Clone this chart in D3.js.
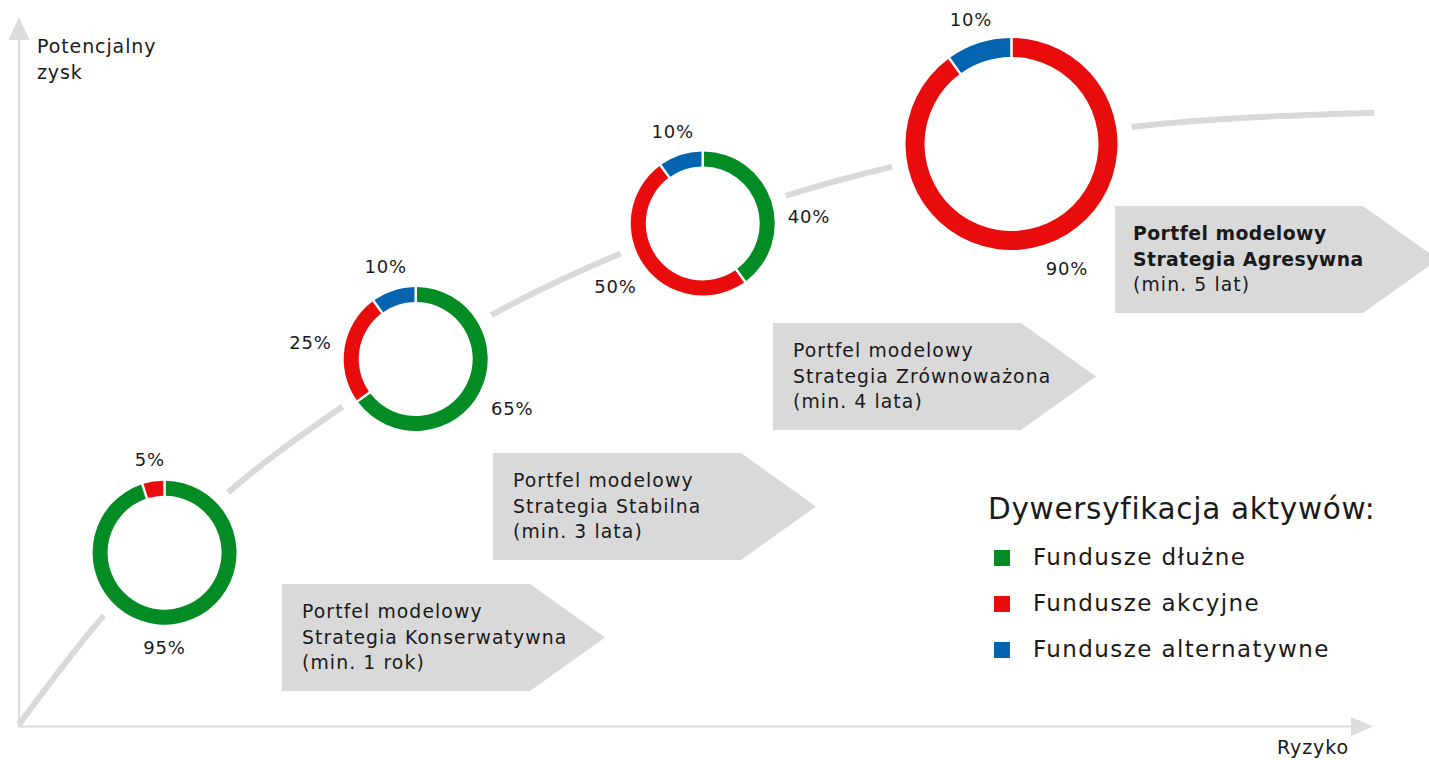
<!DOCTYPE html>
<html>
<head>
<meta charset="utf-8">
<script src="https://cdn.jsdelivr.net/npm/d3@7"></script>
<style>
  html, body { margin: 0; padding: 0; background: #fff; }
  svg { display: block; }
  text { font-family: "DejaVu Sans", "Open Sans", sans-serif; fill: #1a1a1a; }
</style>
</head>
<body>
<svg id="chart" width="1429" height="760"></svg>
<script>
// ---------------- DATA ----------------
const strategies = ["Strategia Konserwatywna", "Strategia Stabilna", "Strategia Zrównoważona", "Strategia Agresywna"];
const horizons = ["(min. 1 rok)", "(min. 3 lata)", "(min. 4 lata)", "(min. 5 lat)"];
const seriesNames = ["Fundusze dłużne", "Fundusze akcyjne", "Fundusze alternatywne"];
const debtShare = [95, 65, 40, 0];
const equityShare = [5, 25, 50, 90];
const altShare = [0, 10, 10, 10];
// position of each portfolio on the risk / potential-return plane (0-100 units)
const portfolioRisk = [10.75, 29.3, 50.5, 73.3];
const portfolioReturn = [24.5, 51.8, 70.9, 82.1];
// risk/return trade-off curve
const curveRisk = [0, 6.3, 15.4, 23.9, 34.9, 44.5, 56.6, 64.3, 82.2, 100.1];
const curveReturn = [0.3, 15.7, 32.9, 45.1, 58.0, 66.7, 74.8, 78.8, 84.5, 86.5];
const axisTitles = { y: ["Potencjalny", "zysk"], x: "Ryzyko" };
const legendTitle = "Dywersyfikacja aktywów:";
const boxTitle = "Portfel modelowy";

// ---------------- STYLE / LAYOUT ----------------
const colors = ["#048c24", "#e80c0c", "#0564b0"];
const grey = "#d9d9d9";
const svg = d3.select("#chart");

const x = d3.scaleLinear().domain([0, 100]).range([19, 1373]);
const y = d3.scaleLinear().domain([0, 100]).range([726.5, 17]);

const radii = [72, 72, 72, 106];
const thickness = [15, 15, 15, 19];
const boxPos = [[282, 584], [493, 453], [773, 323], [1115, 206]];
const labelAngleOverride = { "0-0": 180, "2-0": 86, "3-1": 156 };

// ---------------- AXES ----------------
const axisColor = "#dcdcdc";
const gAxis = svg.append("g");
gAxis.append("line")
  .attr("x1", x(0)).attr("x2", x(0))
  .attr("y1", y(0) + 1).attr("y2", y.range()[1] + 20)
  .attr("stroke", axisColor).attr("stroke-width", 2);
gAxis.append("path")
  .attr("d", `M${x(0)},${y.range()[1]} L${x(0) - 10.5},${y.range()[1] + 23} L${x(0) + 10.5},${y.range()[1] + 23} Z`)
  .attr("fill", axisColor);
gAxis.append("line")
  .attr("x1", x(0) - 1).attr("x2", x.range()[1] - 20)
  .attr("y1", y(0)).attr("y2", y(0))
  .attr("stroke", axisColor).attr("stroke-width", 2);
gAxis.append("path")
  .attr("d", `M${x.range()[1]},${y(0)} L${x.range()[1] - 22},${y(0) - 9.5} L${x.range()[1] - 22},${y(0) + 9.5} Z`)
  .attr("fill", axisColor);

const axisFont = { size: 19, ls: 0.9 };
svg.append("text").attr("x", 37).attr("y", 53).attr("font-size", axisFont.size).attr("letter-spacing", axisFont.ls).text(axisTitles.y[0]);
svg.append("text").attr("x", 37).attr("y", 79).attr("font-size", axisFont.size).attr("letter-spacing", axisFont.ls).text(axisTitles.y[1]);
svg.append("text").attr("x", 1277).attr("y", 754).attr("font-size", axisFont.size).attr("letter-spacing", axisFont.ls).text(axisTitles.x);

// ---------------- CURVE ----------------
const curvePts = curveRisk.map((r, i) => [r, curveReturn[i]])
  .concat(portfolioRisk.map((r, i) => [r, portfolioReturn[i]]))
  .sort((a, b) => a[0] - b[0]);
const line = d3.line().x(d => x(d[0])).y(d => y(d[1])).curve(d3.curveMonotoneX);
svg.append("path").attr("d", line(curvePts))
  .attr("fill", "none").attr("stroke", grey).attr("stroke-width", 6);

// white halos separating curve from donuts
svg.append("g").selectAll("circle").data(portfolioRisk).join("circle")
  .attr("cx", d => x(d)).attr("cy", (d, i) => y(portfolioReturn[i]))
  .attr("r", (d, i) => radii[i] + 15.5).attr("fill", "#fff");

// ---------------- DONUTS ----------------
const pie = d3.pie().sort(null).value(d => d.v);
portfolioRisk.forEach((risk, i) => {
  const cx = x(risk), cy = y(portfolioReturn[i]);
  const r = radii[i];
  const data = [debtShare[i], equityShare[i], altShare[i]].map((v, k) => ({ v, k }));
  const arcs = pie(data);
  const arc = d3.arc().innerRadius(r - thickness[i]).outerRadius(r)
    .padAngle(2.5 / 100).padRadius(100);
  const g = svg.append("g").attr("transform", `translate(${cx},${cy})`);
  g.selectAll("path").data(arcs.filter(a => a.data.v > 0)).join("path")
    .attr("d", arc).attr("fill", d => colors[d.data.k]);
  g.selectAll("text").data(arcs.filter(a => a.data.v > 0)).join("text")
    .each(function (d) {
      const key = i + "-" + d.data.k;
      const deg = labelAngleOverride[key] !== undefined ? labelAngleOverride[key]
        : ((d.startAngle + d.endAngle) / 2) * 180 / Math.PI;
      const t = deg * Math.PI / 180;
      const c = Math.cos(t);
      const dist = r + 13 + 21 * Math.abs(Math.sin(t)) + (c < 0 ? 10 : 6) * Math.abs(c);
      d3.select(this)
        .attr("x", dist * Math.sin(t))
        .attr("y", -dist * c)
        .attr("dy", "0.36em")
        .attr("text-anchor", "middle")
        .attr("font-size", 18)
        .attr("letter-spacing", 0.8)
        .text(d.data.v + "%");
    });
});

// ---------------- ARROW BOXES ----------------
const boxW = 248, boxH = 107, tipW = 75;
strategies.forEach((s, i) => {
  const [bx, by] = boxPos[i];
  const g = svg.append("g").attr("transform", `translate(${bx},${by})`);
  g.append("path")
    .attr("d", `M0,0 H${boxW} L${boxW + tipW},${boxH / 2} L${boxW},${boxH} H0 Z`)
    .attr("fill", grey);
  const bold = i === strategies.length - 1;
  const lines = [boxTitle, s, horizons[i]];
  lines.forEach((t, j) => {
    const isBold = bold && j < 2;
    g.append("text")
      .attr("x", bold ? 18 : 20)
      .attr("y", 34 + j * 25.5)
      .attr("font-size", 18.8)
      .attr("letter-spacing", isBold ? 0.45 : 1.1)
      .attr("font-weight", isBold ? "bold" : "normal")
      .text(t);
  });
});

// ---------------- LEGEND ----------------
const gLeg = svg.append("g");
gLeg.append("text").attr("x", 988).attr("y", 519).attr("font-size", 29.5)
  .attr("letter-spacing", 0.7).text(legendTitle);
seriesNames.forEach((n, k) => {
  gLeg.append("rect").attr("x", 994).attr("y", 550 + k * 46).attr("width", 16).attr("height", 16)
    .attr("fill", colors[k]);
  gLeg.append("text").attr("x", 1033).attr("y", 565 + k * 46).attr("font-size", 23)
    .attr("letter-spacing", 1.4).text(n);
});
</script>
</body>
</html>
